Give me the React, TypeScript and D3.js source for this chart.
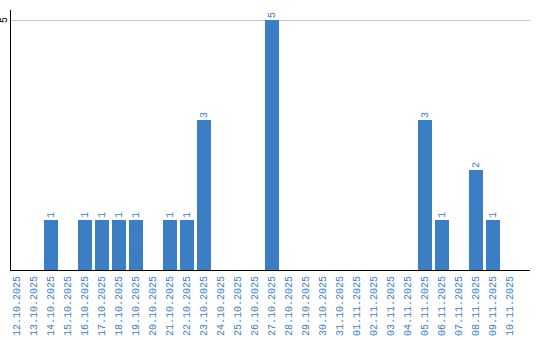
import React from "react";
import * as d3 from "d3";

const dates = [
  "12.10.2025","13.10.2025","14.10.2025","15.10.2025","16.10.2025","17.10.2025",
  "18.10.2025","19.10.2025","20.10.2025","21.10.2025","22.10.2025","23.10.2025",
  "24.10.2025","25.10.2025","26.10.2025","27.10.2025","28.10.2025","29.10.2025",
  "30.10.2025","31.10.2025","01.11.2025","02.11.2025","03.11.2025","04.11.2025",
  "05.11.2025","06.11.2025","07.11.2025","08.11.2025","09.11.2025","10.11.2025",
];
const counts = [0,0,1,0,1,1,1,1,0,1,1,3,0,0,0,5,0,0,0,0,0,0,0,0,3,1,0,2,1,0];
const yTicks = [5];

const W = 540, H = 340;
const BLUE = "#3b7ec3";
const FONT = "'Liberation Mono', 'DejaVu Sans Mono', monospace";

export default function App() {
  const x = d3.scaleBand<string>().domain(dates).range([10, 517]).paddingInner(3 / 17).paddingOuter(0);
  const y = d3.scaleLinear().domain([0, 5]).range([270, 20]);
  return (
    <svg width={W} height={H} style={{ position: "absolute", left: 0, top: 0 }} fontFamily={FONT}>
      {yTicks.map((t) => (
        <g key={t}>
          <line x1={11} x2={530} y1={y(t) + 0.5} y2={y(t) + 0.5} stroke="#c8c8c8" strokeWidth={1} />
          <text transform={`translate(4,${y(t)}) rotate(-90)`} textAnchor="middle" dominantBaseline="central" fontSize={10} fill="#000">{t}</text>
        </g>
      ))}
      {dates.map((d, i) => {
        const v = counts[i];
        const cx = (x(d) as number) + x.bandwidth() / 2;
        return (
          <g key={d}>
            {v > 0 && (
              <>
                <rect x={x(d)} y={y(v)} width={x.bandwidth()} height={y(0) - y(v)} fill={BLUE} />
                <text transform={`translate(${cx},${y(v) - 2}) rotate(-90)`} textAnchor="start" dominantBaseline="central" fontSize={10} fill={BLUE}>{v}</text>
              </>
            )}
            <text transform={`translate(${cx},276) rotate(-90)`} textAnchor="end" dominantBaseline="central" fontSize={10} fill={BLUE}>{d}</text>
          </g>
        );
      })}
      <line x1={10.5} x2={10.5} y1={10} y2={270} stroke="#000" strokeWidth={1} />
      <line x1={10} x2={530} y1={270.5} y2={270.5} stroke="#000" strokeWidth={1} />
    </svg>
  );
}
